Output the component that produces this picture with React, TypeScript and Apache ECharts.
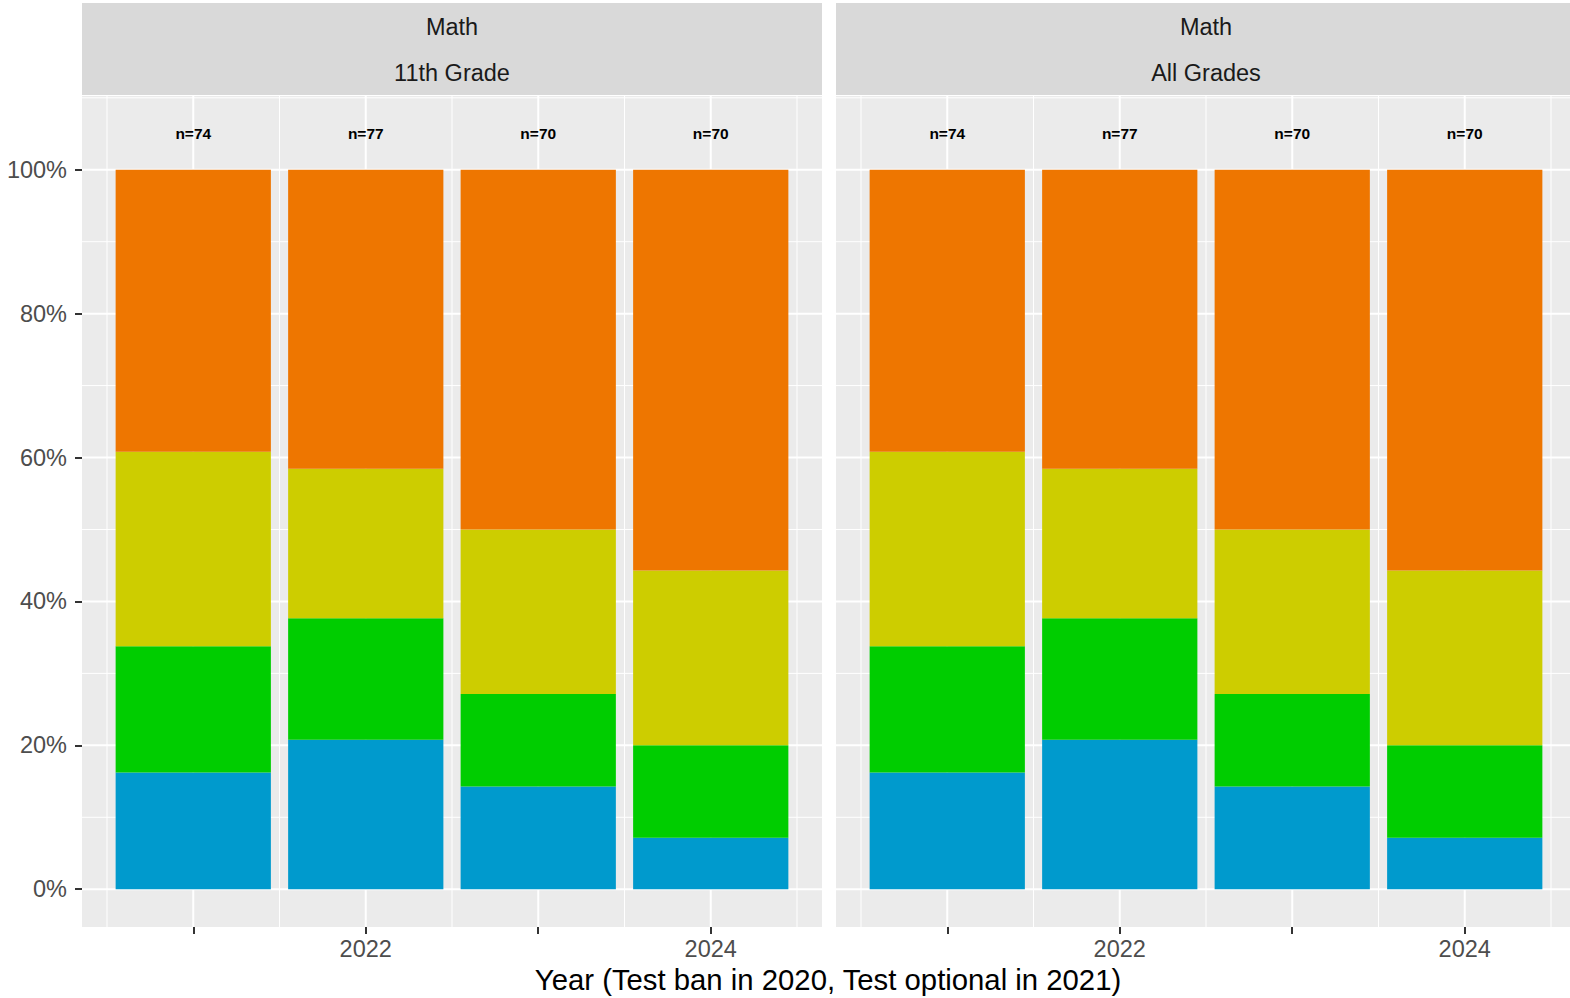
import React, { useEffect, useRef } from "react";
import * as echarts from "echarts";

// ---------- data ----------
const years = [2021, 2022, 2023, 2024];
const sampleSizes = [74, 77, 70, 70];
// counts per level, stacked bottom -> top
const blueCounts = [12, 16, 10, 5];
const greenCounts = [13, 13, 9, 9];
const yellowCounts = [20, 16, 16, 17];
const orangeCounts = [29, 32, 35, 39];
const levelNames = ["Level A", "Level B", "Level C", "Level D"];
const levelColors = ["#009ACD", "#00CD00", "#CDCD00", "#EE7600"];
const panelSubjects = ["Math", "Math"];
const panelGrades = ["11th Grade", "All Grades"];
const yTickValues = [0, 20, 40, 60, 80, 100];
const yMinorValues = [10, 30, 50, 70, 90, 110];
const xTickValues = [2021, 2022, 2023, 2024];
const xMinorValues = [2020.5, 2021.5, 2022.5, 2023.5, 2024.5];
const xLabelValues = [2022, 2024];
const xTitle = "Year (Test ban in 2020, Test optional in 2021)";

const FONT = "'Liberation Sans', Arial, Helvetica, sans-serif";

export default function App() {
  const ref = useRef<HTMLDivElement>(null);

  useEffect(() => {
    if (!ref.current) return;
    const chart = echarts.init(ref.current, undefined, { renderer: "svg" });

    const levels = [blueCounts, greenCounts, yellowCounts, orangeCounts];

    const panelLeft = [82, 836];
    const panelWidth = 740;
    const panelTop = 96;
    const panelHeight = 831;

    const grids = panelLeft.map((l) => ({
      left: l,
      top: panelTop,
      width: panelWidth,
      height: panelHeight,
      show: true,
      backgroundColor: "#EBEBEB",
      borderWidth: 0,
      containLabel: false,
    }));

    const xAxes = panelLeft.map((_, i) => ({
      type: "value",
      gridIndex: i,
      min: 2020.355,
      max: 2024.645,
      axisLine: { show: false, onZero: false },
      splitLine: { show: false },
      axisTick: {
        show: true,
        customValues: xTickValues,
        length: 7,
        lineStyle: { color: "#333333", width: 2 },
      },
      axisLabel: {
        show: true,
        customValues: xLabelValues,
        margin: 10,
        color: "#4D4D4D",
        fontSize: 23.5,
        fontFamily: FONT,
        formatter: (v: number) => String(v),
      },
    }));

    const yAxes = panelLeft.map((_, i) => ({
      type: "value",
      gridIndex: i,
      min: -5.25,
      max: 110.25,
      axisLine: { show: false, onZero: false },
      splitLine: { show: false },
      axisTick: {
        show: i === 0,
        customValues: yTickValues,
        length: 7,
        lineStyle: { color: "#333333", width: 2 },
      },
      axisLabel: {
        show: i === 0,
        customValues: yTickValues,
        margin: 15,
        color: "#4D4D4D",
        fontSize: 23.5,
        fontFamily: FONT,
        formatter: (v: number) => `${v}%`,
      },
    }));

    const series: any[] = [];

    panelLeft.forEach((_, pi) => {
      // grid lines
      const gridData: number[][] = [];
      xMinorValues.forEach((v) => gridData.push([v, 50, 0, 0]));
      xTickValues.forEach((v) => gridData.push([v, 50, 0, 1]));
      yMinorValues.forEach((v) => gridData.push([2022.5, v, 1, 0]));
      yTickValues.forEach((v) => gridData.push([2022.5, v, 1, 1]));
      series.push({
        type: "custom",
        name: "gridlines",
        xAxisIndex: pi,
        yAxisIndex: pi,
        silent: true,
        clip: false,
        z: 1,
        encode: { x: 0, y: 1 },
        data: gridData,
        renderItem: (params: any, api: any) => {
          const cs = params.coordSys;
          const kind = api.value(2);
          const major = api.value(3);
          const w = major ? 2 : 1;
          if (kind === 0) {
            const px = api.coord([api.value(0), 50])[0];
            return {
              type: "line",
              shape: { x1: px, y1: cs.y, x2: px, y2: cs.y + cs.height },
              style: { stroke: "#FFFFFF", lineWidth: w },
            };
          }
          const py = api.coord([2022.5, api.value(1)])[1];
          return {
            type: "line",
            shape: { x1: cs.x, y1: py, x2: cs.x + cs.width, y2: py },
            style: { stroke: "#FFFFFF", lineWidth: w },
          };
        },
      });

      // stacked bars
      const cum = years.map(() => 0);
      levels.forEach((counts, li) => {
        const data = years.map((yr, yi) => {
          const pct = (counts[yi] / sampleSizes[yi]) * 100;
          const y0 = cum[yi];
          const y1 = y0 + pct;
          cum[yi] = y1;
          return [yr, y0, y1];
        });
        series.push({
          type: "custom",
          name: levelNames[li],
          xAxisIndex: pi,
          yAxisIndex: pi,
          z: 2,
          itemStyle: { color: levelColors[li] },
          encode: { x: 0, y: [1, 2] },
          data,
          renderItem: (params: any, api: any) => {
            const x = api.value(0);
            const p0 = api.coord([x - 0.45, api.value(1)]);
            const p1 = api.coord([x + 0.45, api.value(2)]);
            return {
              type: "rect",
              shape: {
                x: p0[0],
                y: p1[1],
                width: p1[0] - p0[0],
                height: p0[1] - p1[1],
              },
              style: { fill: api.visual("color") },
            };
          },
        });
      });

      // n labels
      series.push({
        type: "custom",
        name: "n",
        xAxisIndex: pi,
        yAxisIndex: pi,
        z: 3,
        encode: { x: 0, y: 1 },
        data: years.map((yr, yi) => [yr, 105, sampleSizes[yi]]),
        renderItem: (params: any, api: any) => {
          const p = api.coord([api.value(0), api.value(1)]);
          return {
            type: "text",
            x: p[0],
            y: p[1],
            style: {
              text: "n=" + api.value(2),
              fill: "#000000",
              fontSize: 15.5,
              fontWeight: "bold",
              fontFamily: FONT,
              align: "center",
              verticalAlign: "middle",
            },
          };
        },
      });
    });

    const graphics: any[] = [];
    panelLeft.forEach((l, pi) => {
      graphics.push({
        type: "rect",
        shape: { x: l, y: 3, width: panelWidth, height: 92 },
        style: { fill: "#D9D9D9" },
        silent: true,
      });
      graphics.push({
        type: "text",
        x: l + panelWidth / 2,
        y: 27,
        style: {
          text: panelSubjects[pi],
          fill: "#1A1A1A",
          fontSize: 23.5,
          fontFamily: FONT,
          align: "center",
          verticalAlign: "middle",
        },
      });
      graphics.push({
        type: "text",
        x: l + panelWidth / 2,
        y: 73,
        style: {
          text: panelGrades[pi],
          fill: "#1A1A1A",
          fontSize: 23.5,
          fontFamily: FONT,
          align: "center",
          verticalAlign: "middle",
        },
      });
    });
    graphics.push({
      type: "text",
      x: 828,
      y: 979,
      style: {
        text: xTitle,
        fill: "#000000",
        fontSize: 29.3,
        fontFamily: FONT,
        align: "center",
        verticalAlign: "middle",
      },
    });

    chart.setOption({
      animation: false,
      backgroundColor: "#FFFFFF",
      grid: grids,
      xAxis: xAxes,
      yAxis: yAxes,
      series,
      graphic: graphics,
    });

    return () => chart.dispose();
  }, []);

  return (
    <div
      style={{
        position: "absolute",
        left: 0,
        top: 0,
        width: 1570,
        height: 998,
        overflow: "hidden",
        background: "#FFFFFF",
      }}
    >
      <div ref={ref} style={{ width: 1580, height: 998 }} />
    </div>
  );
}
